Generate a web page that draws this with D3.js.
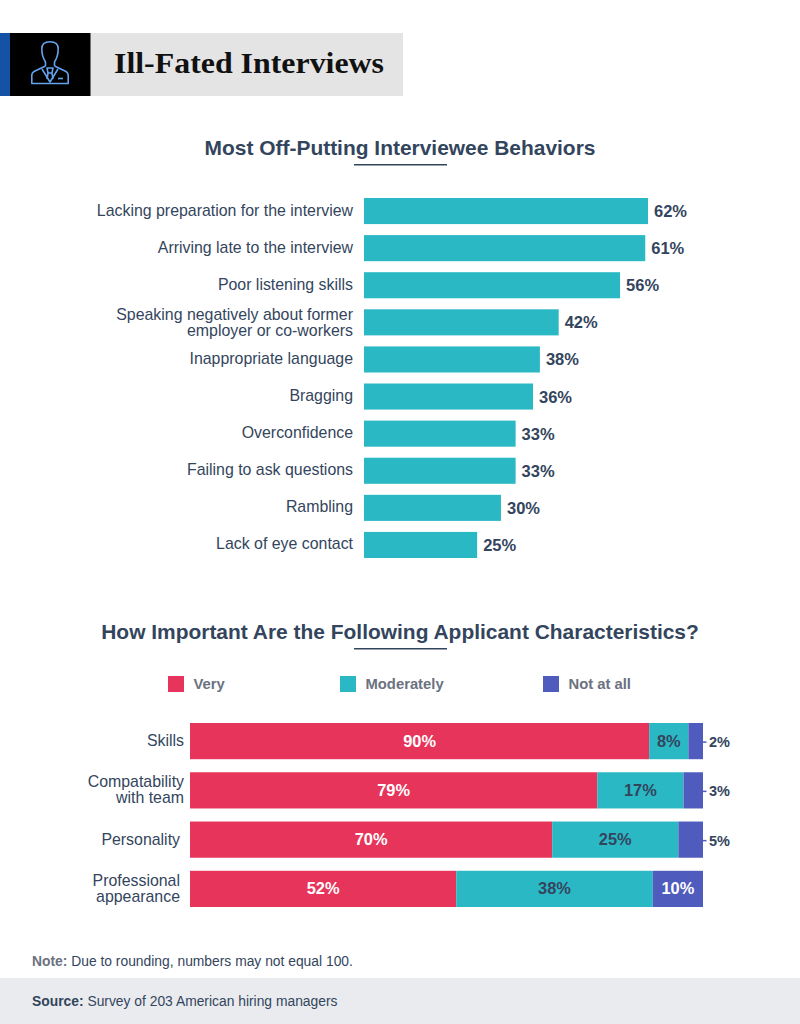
<!DOCTYPE html>
<html>
<head>
<meta charset="utf-8">
<script src="https://cdn.jsdelivr.net/npm/d3@7"></script>
<style>
html, body { margin: 0; padding: 0; background: #fff; }
svg { display: block; }
text { font-family: "Liberation Sans", Arial, sans-serif; }
</style>
</head>
<body>
<svg id="chart" width="800" height="1024"></svg>
<script>
// top chart, bar lengths as measured, printed labels are rounded differently
var behaviors = ["Lacking preparation for the interview", "Arriving late to the interview", "Poor listening skills",
    "Speaking negatively about former\nemployer or co-workers", "Inappropriate language", "Bragging",
    "Overconfidence", "Failing to ask questions", "Rambling", "Lack of eye contact"];
var behaviorValues = [62, 61.4, 55.9, 42.5, 38.4, 36.9, 33.1, 33.1, 29.9, 24.7];
var behaviorLabels = ["62%", "61%", "56%", "42%", "38%", "36%", "33%", "33%", "30%", "25%"];

// bottom chart
var characteristics = ["Skills", "Compatability\nwith team", "Personality", "Professional\nappearance"];
var importanceLevels = ["Very", "Moderately", "Not at all"];
var veryValues = [89.5, 79.4, 70.6, 51.9];
var moderatelyValues = [7.65, 16.8, 24.6, 38.3];
var notAtAllValues = [2.85, 3.8, 4.8, 9.8];
var veryLabels = ["90%", "79%", "70%", "52%"];
var moderatelyLabels = ["8%", "17%", "25%", "38%"];
var notAtAllLabels = ["2%", "3%", "5%", "10%"];

var DARK = "#33455d", GREY = "#6b7280", TEAL = "#2ab8c5";
var levelColors = d3.scaleOrdinal().domain(importanceLevels).range(["#e7345b", TEAL, "#4f5bbd"]);
var levelLabels = { "Very": veryLabels, "Moderately": moderatelyLabels, "Not at all": notAtAllLabels };

var svg = d3.select("#chart");

// multi line labels, centred on the row
function addLines(sel, lineHeight) {
    sel.each(function(d) {
        var lines = d.split("\n");
        var t = d3.select(this);
        lines.forEach(function(line, i) {
            t.append("tspan")
                .attr("x", t.attr("x"))
                .attr("dy", i == 0 ? -(lines.length - 1) * lineHeight / 2 : lineHeight)
                .text(line);
        });
    });
}

function drawHeading(text, y) {
    svg.append("text").attr("x", 400).attr("y", y)
        .attr("text-anchor", "middle").attr("font-size", 20.95).attr("font-weight", "bold")
        .attr("fill", DARK).text(text);
    svg.append("rect").attr("x", 354).attr("y", y + 9).attr("width", 93).attr("height", 1.5).attr("fill", DARK);
}

// header banner
svg.append("rect").attr("x", 0).attr("y", 33).attr("width", 403).attr("height", 63).attr("fill", "#e4e4e4");
svg.append("rect").attr("x", 0).attr("y", 33).attr("width", 11).attr("height", 63).attr("fill", "#1352a5");
svg.append("rect").attr("x", 10).attr("y", 33).attr("width", 80.5).attr("height", 63).attr("fill", "#000");
svg.append("text").attr("x", 114).attr("y", 73)
    .style("font-family", "'Liberation Serif', serif")
    .attr("font-size", 30).attr("font-weight", "bold").attr("fill", "#111")
    .attr("textLength", 270).attr("lengthAdjust", "spacingAndGlyphs")
    .text("Ill-Fated Interviews");

// person icon
var icon = svg.append("g").attr("fill", "none").attr("stroke", "#64a2ee").attr("stroke-width", 1.6).attr("stroke-linejoin", "round");
icon.append("path").attr("d", "M45.5 66 L45.5 62 C43 58 41.8 54 41.8 49 C41.8 44 45 41.8 50 41.8 C55 41.8 58.2 44 58.2 49 C58.2 54 57 58 54.5 62 L54.5 66");
icon.append("path").attr("d", "M45.5 66 L34 71.5 C32.5 72.5 31.8 73.5 31.8 75 L31.8 83.5 L68.2 83.5 L68.2 75 C68.2 73.5 67.5 72.5 66 71.5 L54.5 66");
icon.append("path").attr("d", "M42 69 L50 82 L58 69");
icon.append("path").attr("d", "M47 68 L53 68 L52 73 L48 73 Z M48 73 L47 79 M52 73 L53 79");
icon.append("path").attr("d", "M58 78.5 L63 78.5");

// top chart
drawHeading("Most Off-Putting Interviewee Behaviors", 155);

var x1 = d3.scaleLinear().domain([0, 62]).range([364, 648]);
var y1 = d3.scaleBand().domain(behaviors).range([198, 558]).paddingInner(0.297);

var rows1 = svg.append("g").selectAll("g").data(behaviors).enter().append("g");
rows1.append("rect")
    .attr("x", x1(0))
    .attr("y", function(d) { return y1(d); })
    .attr("height", y1.bandwidth())
    .attr("width", function(d, i) { return x1(behaviorValues[i]) - x1(0); })
    .attr("fill", TEAL);
rows1.append("text")
    .attr("x", 353)
    .attr("y", function(d) { return y1(d) + y1.bandwidth() / 2 + (d.indexOf("\n") >= 0 ? 5.5 : 4.5); })
    .attr("text-anchor", "end").attr("font-size", 15.9).attr("fill", DARK)
    .call(addLines, 16);
rows1.append("text")
    .attr("x", function(d, i) { return x1(behaviorValues[i]) + 6; })
    .attr("y", function(d) { return y1(d) + y1.bandwidth() / 2 + 6; })
    .attr("font-size", 16.5).attr("font-weight", "bold").attr("fill", DARK)
    .text(function(d, i) { return behaviorLabels[i]; });

// bottom chart
drawHeading("How Important Are the Following Applicant Characteristics?", 639);

var legendX = [168, 340, 543];
var legend = svg.append("g").selectAll("g").data(importanceLevels).enter().append("g")
    .attr("transform", function(d, i) { return "translate(" + legendX[i] + ",676)"; });
legend.append("rect").attr("width", 16).attr("height", 16).attr("fill", function(d) { return levelColors(d); });
legend.append("text").attr("x", 25.5).attr("y", 13)
    .attr("font-size", 14.8).attr("font-weight", "bold").attr("fill", GREY)
    .text(function(d) { return d; });

var table = characteristics.map(function(c, i) {
    return { name: c, index: i, "Very": veryValues[i], "Moderately": moderatelyValues[i], "Not at all": notAtAllValues[i] };
});
var stacked = d3.stack().keys(importanceLevels)(table);

var x2 = d3.scaleLinear().domain([0, 100]).range([190, 703]);
var y2 = d3.scaleBand().domain(characteristics).range([723, 907]).paddingInner(0.265);

// the last two row labels sit a little further from the bars
var labelRight = [184, 184, 180, 180];
svg.append("g").selectAll("text").data(characteristics).enter().append("text")
    .attr("x", function(d, i) { return labelRight[i]; })
    .attr("y", function(d) { return y2(d) + y2.bandwidth() / 2 + 5; })
    .attr("text-anchor", "end").attr("font-size", 15.9).attr("fill", DARK)
    .call(addLines, 16);

stacked.forEach(function(series) {
    var g = svg.append("g");
    g.selectAll("rect").data(series).enter().append("rect")
        .attr("x", function(d) { return x2(d[0]); })
        .attr("width", function(d) { return x2(d[1]) - x2(d[0]); })
        .attr("y", function(d) { return y2(d.data.name); })
        .attr("height", y2.bandwidth())
        .attr("fill", levelColors(series.key));

    // small shares get their label outside the bar, with a tick
    var isSmall = function(d) { return d.data[series.key] < 7; };

    g.selectAll("line").data(series.filter(isSmall)).enter().append("line")
        .attr("x1", x2(100)).attr("x2", x2(100) + 3.5)
        .attr("y1", function(d) { return y2(d.data.name) + y2.bandwidth() / 2 + 1; })
        .attr("y2", function(d) { return y2(d.data.name) + y2.bandwidth() / 2 + 1; })
        .attr("stroke", levelColors(series.key)).attr("stroke-width", 1.5);

    g.selectAll("text").data(series).enter().append("text")
        .attr("x", function(d) { return isSmall(d) ? x2(100) + 6 : (x2(d[0]) + x2(d[1])) / 2; })
        .attr("y", function(d) { return y2(d.data.name) + y2.bandwidth() / 2 + (isSmall(d) ? 6 : 5.5); })
        .attr("text-anchor", function(d) { return isSmall(d) ? "start" : "middle"; })
        .attr("font-size", function(d) { return isSmall(d) ? 14.5 : 16.4; })
        .attr("font-weight", "bold")
        .attr("fill", function(d) {
            if (isSmall(d) || series.key == "Moderately") return DARK;
            return "#fff";
        })
        .text(function(d) { return levelLabels[series.key][d.data.index]; });
});

// footer
var note = svg.append("text").attr("x", 32).attr("y", 966).attr("font-size", 13.85).attr("fill", DARK);
note.append("tspan").attr("font-weight", "bold").attr("fill", GREY).text("Note:");
note.append("tspan").text(" Due to rounding, numbers may not equal 100.");

svg.append("rect").attr("x", 0).attr("y", 978).attr("width", 800).attr("height", 46).attr("fill", "#e9ebee");
var source = svg.append("text").attr("x", 32).attr("y", 1006).attr("font-size", 13.85).attr("fill", DARK);
source.append("tspan").attr("font-weight", "bold").text("Source:");
source.append("tspan").text(" Survey of 203 American hiring managers");
</script>
</body>
</html>
